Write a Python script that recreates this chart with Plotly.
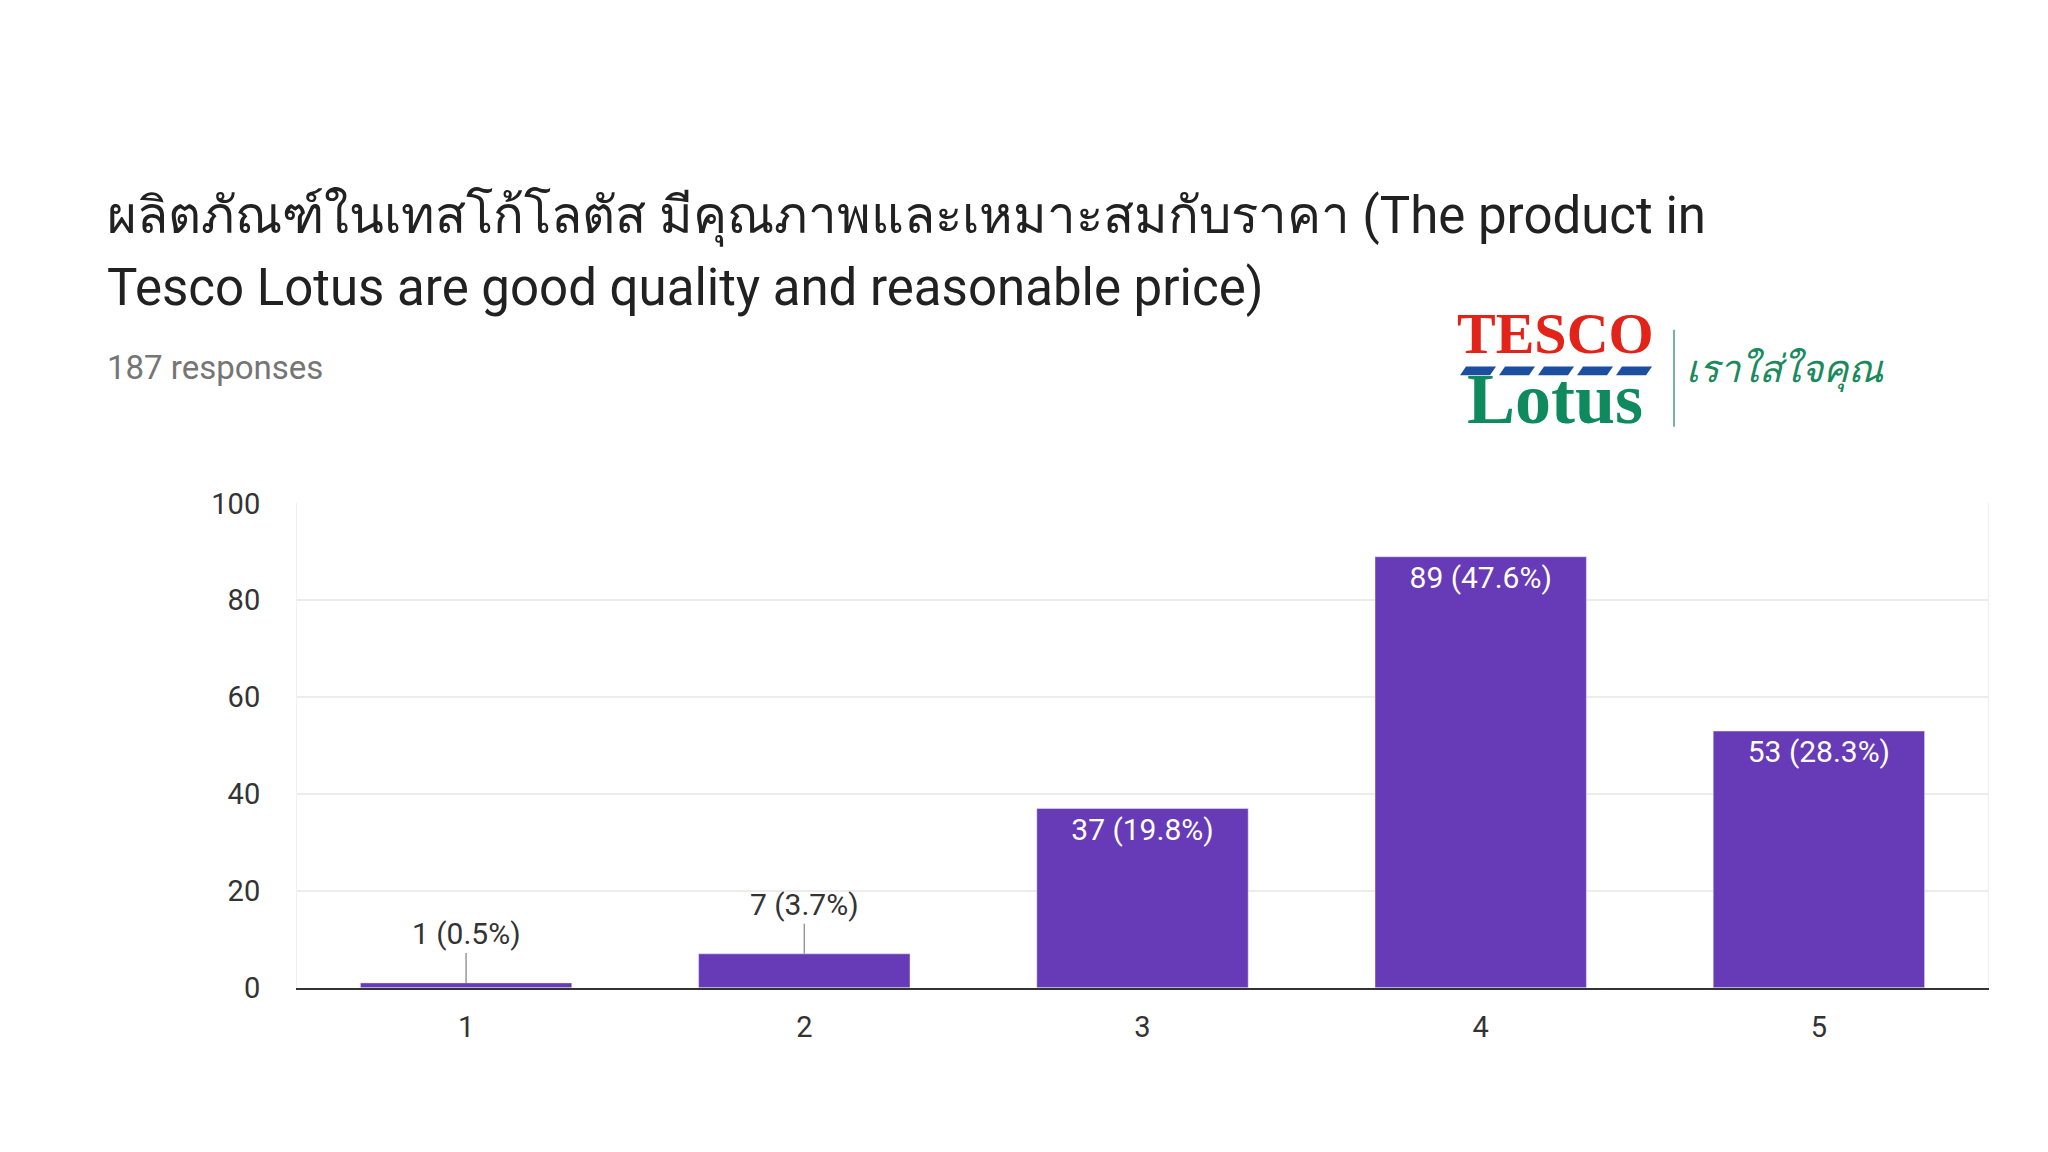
import plotly.graph_objects as go

categories = ["1", "2", "3", "4", "5"]
counts = [1, 7, 37, 89, 53]
percents = ["0.5%", "3.7%", "19.8%", "47.6%", "28.3%"]
y_ticks = [0, 20, 40, 60, 80, 100]

W, H = 2048, 1152
def px(x): return x / W
def py(y): return 1 - y / H

labels = [f"{c} ({p})" for c, p in zip(counts, percents)]
inside_text = [l if c >= 20 else "" for l, c in zip(labels, counts)]

fig = go.Figure(go.Bar(
    x=categories, y=counts, marker_color="#673ab7",
    text=inside_text, textposition="inside", insidetextanchor="end",
    textfont=dict(color="white", size=30, family="Roboto"),
    textangle=0, cliponaxis=False,
))

ann = []
for i, (c, l) in enumerate(zip(counts, labels)):
    if c < 20:
        ann.append(dict(x=i, y=c, xref="x", yref="y", text=l, showarrow=True,
                        arrowhead=0, arrowwidth=1.5, arrowcolor="#999", ax=0, ay=-30,
                        yanchor="bottom", font=dict(size=30, color="#333", family="Roboto")))

ann += [
    dict(x=px(97), y=py(197), xref="paper", yref="paper", xanchor="left", yanchor="middle",
         showarrow=False, font=dict(size=51, color="#212121", family="Roboto"),
         text="ผลิตภัณฑ์ในเทสโก้โลตัส มีคุณภาพและเหมาะสมกับราคา (The product in"),
    dict(x=px(97), y=py(270), xref="paper", yref="paper", xanchor="left", yanchor="middle",
         showarrow=False, font=dict(size=51, color="#212121", family="Roboto"),
         text="Tesco Lotus are good quality and reasonable price)"),
    dict(x=px(97), y=py(353), xref="paper", yref="paper", xanchor="left", yanchor="middle",
         showarrow=False, font=dict(size=33, color="#757575", family="Roboto"),
         text="187 responses"),
    dict(x=px(1547), y=py(318), xref="paper", yref="paper", xanchor="center", yanchor="middle",
         showarrow=False, font=dict(size=58, color="#e2231a", family="Liberation Serif"),
         text="<b>TESCO</b>"),
    dict(x=px(1547), y=py(385), xref="paper", yref="paper", xanchor="center", yanchor="middle",
         showarrow=False, font=dict(size=72, color="#0f8a5f", family="Liberation Serif"),
         text="<b>Lotus</b>"),
    dict(x=px(1676), y=py(352), xref="paper", yref="paper", xanchor="left", yanchor="middle",
         showarrow=False, font=dict(size=38, color="#1a8a5e", family="Noto Sans"),
         text="<i>เราใส่ใจคุณ</i>"),
]

shapes = [dict(type="line", xref="paper", yref="paper", x0=px(1666), x1=px(1666),
               y0=py(314), y1=py(414), line=dict(color="#4a9a80", width=1.5))]
for i in range(5):
    x0 = 1452 + i * 39
    shapes.append(dict(type="path", xref="paper", yref="paper",
                       path=f"M {px(x0)},{py(361)} L {px(x0+30)},{py(361)} L {px(x0+36)},{py(352)} L {px(x0+6)},{py(352)} Z",
                       fillcolor="#1c4fa0", line=dict(width=0)))

fig.update_layout(
    width=W, height=H, margin=dict(l=0, r=0, t=0, b=0),
    paper_bgcolor="white", plot_bgcolor="white",
    bargap=0.375, showlegend=False,
    annotations=ann, shapes=shapes,
    xaxis=dict(domain=[px(289), px(1980)], showline=True, linecolor="#333", linewidth=2,
               tickfont=dict(size=29, color="#333", family="Roboto"), ticks="", ticklabelstandoff=12),
    yaxis=dict(domain=[py(992), py(493)], range=[0, 100], tickvals=y_ticks,
               gridcolor="#ececec", gridwidth=1.5, zeroline=False, showline=True, mirror=True,
               linecolor="#f0f0f0", tickfont=dict(size=29, color="#333", family="Roboto"),
               ticklabelstandoff=30),
)

fig.write_html("out.html")
